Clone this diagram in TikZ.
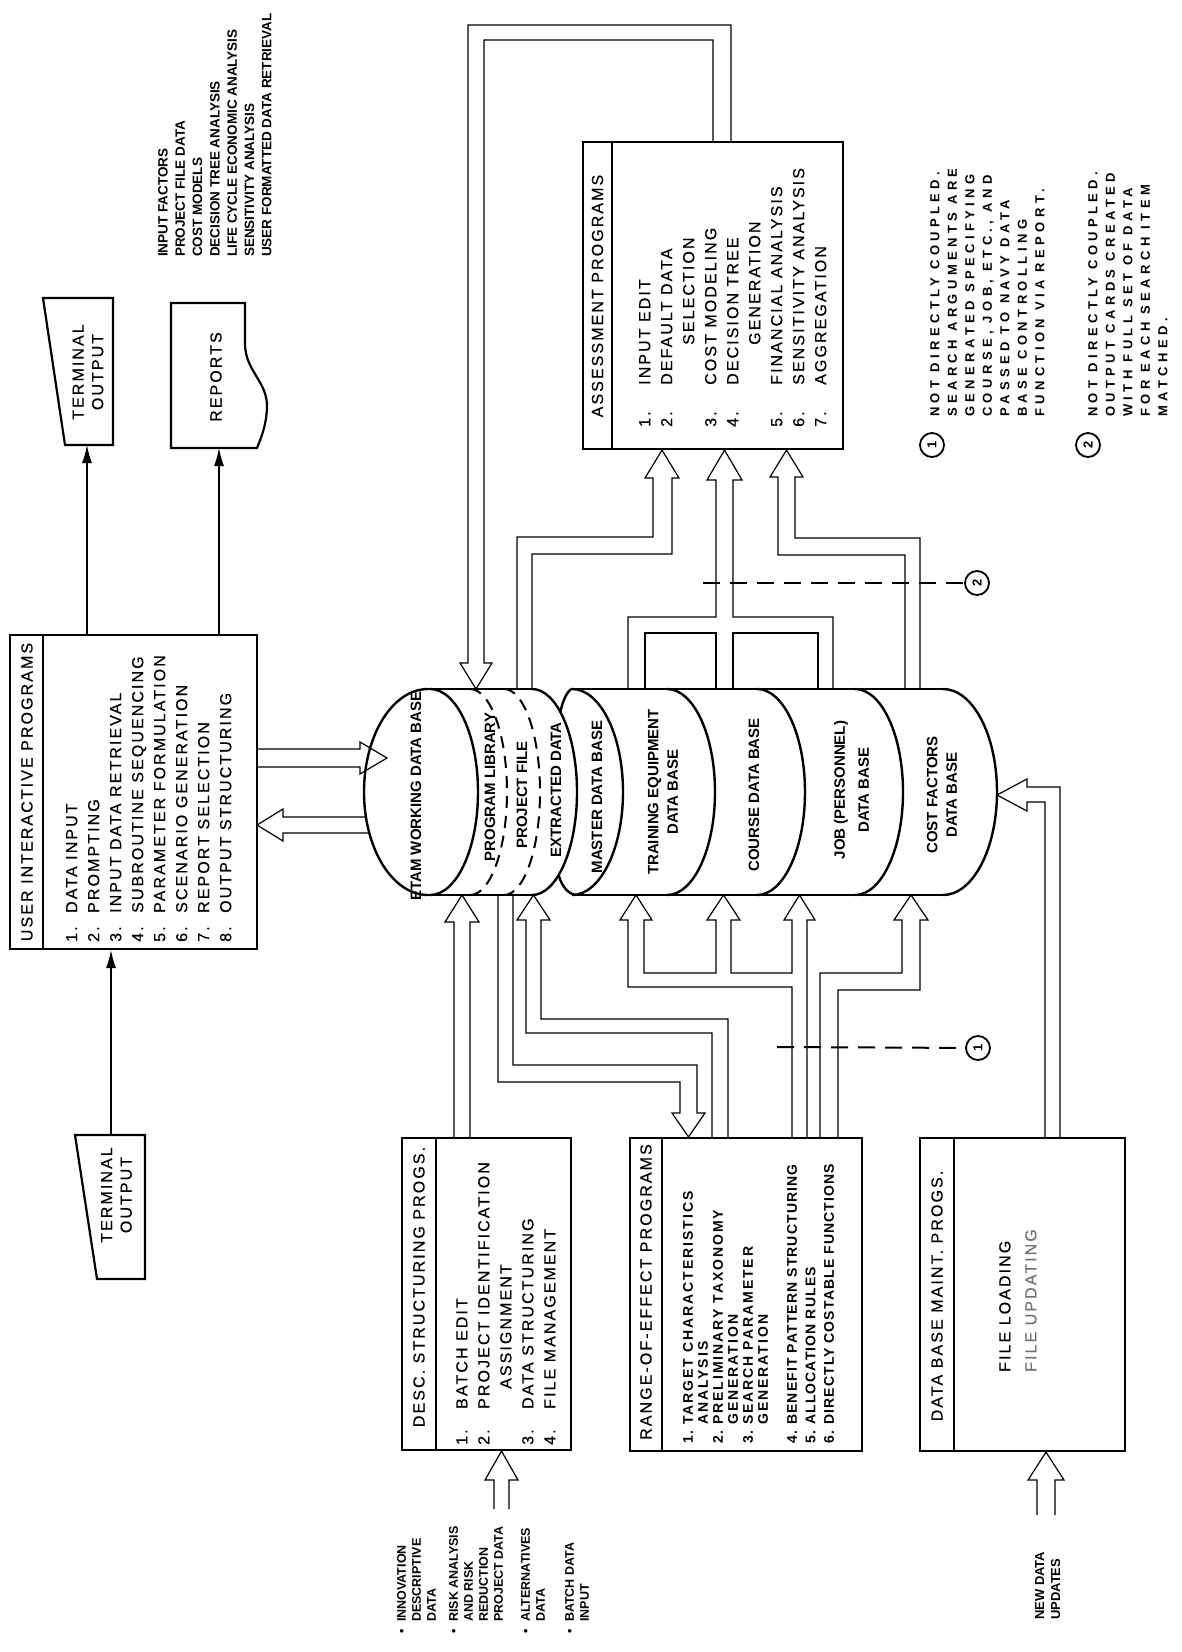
\documentclass[tikz,border=0pt]{standalone}
\usepackage{fontspec}
\setmainfont{Liberation Sans}
\newfontfamily\fwide[LetterSpace=13,FakeBold=0.4]{Liberation Sans}
\newfontfamily\fbsp[LetterSpace=14]{Liberation Sans}
\newfontfamily\fbspb[LetterSpace=8]{Liberation Sans}
\newfontfamily\fnote[LetterSpace=34]{Liberation Sans}
\newfontfamily\fplain{Liberation Sans}
\usetikzlibrary{arrows.meta}
\newcommand\nbx[2]{\makebox[#1][l]{#2}}
\begin{document}
\begin{tikzpicture}[x=1pt,y=-1pt,
  box/.style={draw,line width=2.2pt,rectangle,inner sep=0pt},
  divl/.style={line width=2.2pt},
  pipe/.style={line width=1.2pt,line join=miter},
  cyl/.style={line width=2.4pt},
  dcyl/.style={line width=2pt,dash pattern=on 12pt off 8pt},
  rt/.style={rotate=90,inner sep=0pt,align=left,anchor=north west},
  rc/.style={rotate=90,inner sep=0pt,align=center,anchor=center},
  lst/.style={font=\fwide\fontsize{16}{22}\selectfont},
  dbl/.style={font=\fplain\bfseries\fontsize{15}{19.5}\selectfont},
  arr/.style={line width=1.3pt,-{Latex[length=18pt,width=10pt]}},
  dsh/.style={line width=2pt,dash pattern=on 17pt off 10pt},
  circ/.style={draw,circle,line width=1.8pt,minimum size=24pt,inner sep=0pt,rotate=90,font=\fplain\bfseries\fontsize{13}{13}\selectfont},
]
\fill[white] (0,0) rectangle (1181,1652);
\useasboundingbox (0,0) rectangle (1181,1652);

% ---------- boxes ----------
\node[box,minimum width=247pt,minimum height=314pt] (uip) at (133.5,792) {};
\draw[divl] (43,0 |- uip.north) -- (43,0 |- uip.south);
\node[rc,lst] (uiphd) at (27,792) {USER INTERACTIVE PROGRAMS};
\node[rt,lst] (uiplist) at (66,942) {\nbx{29pt}{1.}DATA INPUT\\ \nbx{29pt}{2.}PROMPTING\\ \nbx{29pt}{3.}INPUT DATA RETRIEVAL\\ \nbx{29pt}{4.}SUBROUTINE SEQUENCING\\ \nbx{29pt}{5.}PARAMETER FORMULATION\\ \nbx{29pt}{6.}SCENARIO GENERATION\\ \nbx{29pt}{7.}REPORT SELECTION\\ \nbx{29pt}{8.}OUTPUT STRUCTURING};

\node[box,minimum width=260pt,minimum height=307pt] (asm) at (713,295.5) {};
\draw[divl] (612,0 |- asm.north) -- (612,0 |- asm.south);
\node[rc,lst] (asmhd) at (597.5,296) {ASSESSMENT PROGRAMS};
\node[rt,lst] (asmlist) at (639,427) {\nbx{42pt}{1.}INPUT EDIT\\ \nbx{42pt}{2.}DEFAULT DATA\\ \hspace*{82pt}SELECTION\\ \nbx{42pt}{3.}COST MODELING\\ \nbx{42pt}{4.}DECISION TREE\\ \hspace*{82pt}GENERATION\\ \nbx{42pt}{5.}FINANCIAL ANALYSIS\\ \nbx{42pt}{6.}SENSITIVITY ANALYSIS\\ \nbx{42pt}{7.}AGGREGATION};

\node[box,minimum width=169pt,minimum height=312pt] (desc) at (486.5,1294) {};
\draw[divl] (436,0 |- desc.north) -- (436,0 |- desc.south);
\node[rc,lst] (deschd) at (419,1287) {DESC. STRUCTURING PROGS.};
\node[rt,lst] (desclist) at (456,1445) {\nbx{36pt}{1.}BATCH EDIT\\ \nbx{36pt}{2.}PROJECT IDENTIFICATION\\ \hspace*{56pt}ASSIGNMENT\\ \nbx{36pt}{3.}DATA STRUCTURING\\ \nbx{36pt}{4.}FILE MANAGEMENT};

\node[box,minimum width=232pt,minimum height=313pt] (roe) at (746,1294.5) {};
\draw[divl] (662,0 |- roe.north) -- (662,0 |- roe.south);
\node[rc,lst] (roehd) at (646,1292) {RANGE-OF-EFFECT PROGRAMS};
\node[rt,font=\fbsp\bfseries\fontsize{14}{15}\selectfont] (roelist) at (683,1444) {\nbx{19pt}{1.}TARGET CHARACTERISTICS\\ \hspace*{19pt}ANALYSIS\\ \nbx{19pt}{2.}PRELIMINARY TAXONOMY\\ \hspace*{19pt}GENERATION\\ \nbx{19pt}{3.}SEARCH PARAMETER\\ \hspace*{19pt}GENERATION};
\node[rt,font=\fbspb\bfseries\fontsize{14}{18.5}\selectfont] (roelist2) at (787,1444) {\nbx{19pt}{4.}BENEFIT PATTERN STRUCTURING\\ \nbx{19pt}{5.}ALLOCATION RULES\\ \nbx{19pt}{6.}DIRECTLY COSTABLE FUNCTIONS};

\node[box,minimum width=205pt,minimum height=313pt] (dbm) at (1022.5,1294.5) {};
\draw[divl] (954,0 |- dbm.north) -- (954,0 |- dbm.south);
\node[rc,lst] (dbmhd) at (937,1296) {DATA BASE MAINT. PROGS.};
\node[rt,font=\fwide\fontsize{16}{26}\selectfont] (dbmlist) at (999,1372) {FILE LOADING\\ \textcolor{black!55}{FILE UPDATING}};

% ---------- terminals and reports ----------
\draw[line width=2.2pt] (43,298) -- (113,298) -- (113,445) -- (65,445) -- cycle;
\node[rc,font=\fwide\fontsize{16}{19.5}\selectfont] (tt1) at (88,372) {TERMINAL\\OUTPUT};
\draw[line width=2.2pt] (75,1135) -- (145,1135) -- (145,1279) -- (97,1279) -- cycle;
\node[rc,font=\fwide\fontsize{16}{19.5}\selectfont] (tt2) at (116.5,1195) {TERMINAL\\OUTPUT};
\draw[line width=2.2pt] (171,303) -- (245,303) -- (245,345) .. controls (246,372) and (268,382) .. (267,408) .. controls (266,428) and (260,440) .. (257,448) -- (171,448) -- cycle;
\node[rc,lst] (rep) at (216,377) {REPORTS};

\coordinate (t1b) at (87,445);
\coordinate (repb) at (219,448);
\coordinate (t2t) at (111,1135);
\draw[arr] (87,0 |- uip.north) -- (t1b);
\draw[arr] (219,0 |- uip.north) -- (repb);
\draw[arr] (t2t) -- (111,0 |- uip.south);

% ---------- outputs list ----------
\node[rt,font=\fplain\bfseries\fontsize{13.5}{17.3}\selectfont] (outlist) at (158,257) {INPUT FACTORS\\ PROJECT FILE DATA\\ COST MODELS\\ DECISION TREE ANALYSIS\\ LIFE CYCLE ECONOMIC ANALYSIS\\ SENSITIVITY ANALYSIS\\ USER FORMATTED DATA RETRIEVAL};

% ---------- inputs list ----------
\node[rt,font=\fplain\bfseries\fontsize{12.5}{15}\selectfont] (inlist) at (397,1634) {\nbx{12pt}{\textbullet}INNOVATION\\ \hspace*{12pt}DESCRIPTIVE\\ \hspace*{12pt}DATA\\[7pt] \nbx{12pt}{\textbullet}RISK ANALYSIS\\ \hspace*{12pt}AND RISK\\ \hspace*{12pt}REDUCTION\\ \hspace*{12pt}PROJECT DATA\\[12pt] \nbx{12pt}{\textbullet}ALTERNATIVES\\ \hspace*{12pt}DATA\\[14pt] \nbx{12pt}{\textbullet}BATCH DATA\\ \hspace*{12pt}INPUT};
\node[rt,font=\fplain\bfseries\fontsize{13}{16}\selectfont] (newdata) at (1035,1620) {NEW DATA\\UPDATES};

% ---------- legend ----------
\node[circ] (lc1) at (932,445) {1};
\node[circ] (lc2) at (1088,445) {2};
\node[rt,font=\fnote\bfseries\fontsize{13}{17.5}\selectfont] (note1) at (930,417) {NOT DIRECTLY COUPLED.\\ SEARCH ARGUMENTS ARE\\ GENERATED SPECIFYING\\ COURSE, JOB, ETC., AND\\ PASSED TO NAVY DATA\\ BASE CONTROLLING\\ FUNCTION VIA REPORT.};
\node[rt,font=\fnote\bfseries\fontsize{13}{17.5}\selectfont] (note2) at (1088,417) {NOT DIRECTLY COUPLED.\\ OUTPUT CARDS CREATED\\ WITH FULL SET OF DATA\\ FOR EACH SEARCH ITEM\\ MATCHED.};

% ---------- cylinder stack ----------
\draw[cyl] (428,689) -- (532,689);
\draw[cyl] (571,689) -- (943,689);
\draw[cyl] (428,895) -- (532,895);
\draw[cyl] (575,895) -- (943,895);
\draw[cyl] (428,689) arc[start angle=-90,end angle=-270,x radius=64,y radius=103];
\draw[cyl] (430,689) arc[start angle=-90,end angle=90,x radius=48,y radius=103];
\draw[dcyl] (470,689) arc[start angle=-90,end angle=90,x radius=37,y radius=103];
\draw[dcyl] (504,689) arc[start angle=-90,end angle=90,x radius=36,y radius=103];
\draw[cyl] (532,689) arc[start angle=-90,end angle=90,x radius=45,y radius=103];
\draw[cyl] (560.3,712) .. controls (563,700) and (567,692) .. (571,689);
\draw[cyl] (558.6,875) .. controls (562,887) and (568,893) .. (575,895);
\draw[cyl] (572,689) arc[start angle=-90,end angle=90,x radius=51,y radius=103];
\draw[cyl] (667,689) arc[start angle=-90,end angle=90,x radius=48,y radius=103];
\draw[cyl] (757,689) arc[start angle=-90,end angle=90,x radius=48,y radius=103];
\draw[cyl] (855,689) arc[start angle=-90,end angle=90,x radius=48,y radius=103];
\draw[cyl] (943,689) arc[start angle=-90,end angle=90,x radius=54,y radius=103];

\node[rc,dbl] (etam) at (416,796) {ETAM WORKING DATA BASE};
\node[rc,dbl] (plib) at (490,787) {PROGRAM LIBRARY};
\node[rc,dbl] (pfile) at (522,795) {PROJECT FILE};
\node[rc,dbl] (xdata) at (556,790) {EXTRACTED DATA};
\node[rc,dbl] (mdb) at (597,797) {MASTER DATA BASE};
\node[rc,dbl] (tedb) at (663,792) {TRAINING EQUIPMENT\\DATA BASE};
\node[rc,dbl] (cdb) at (754,795) {COURSE DATA BASE};
\node[rc,font=\fplain\bfseries\fontsize{15}{24}\selectfont] (jdb) at (851.5,790) {JOB (PERSONNEL)\\DATA BASE};
\node[rc,dbl] (cfdb) at (942,795) {COST FACTORS\\DATA BASE};

% ---------- UIP <-> ETAM hollow arrows ----------
\draw[pipe] (257,749) -- (360,749) -- (360,742) -- (387,758) -- (360,774) -- (360,767) -- (257,767);
\draw[pipe] (366,817) -- (283,817) -- (283,809) -- (257,825) -- (283,841) -- (283,833) -- (369,833);

% ---------- upper pipes ----------
\draw[pipe] (731,0 |- asm.north) -- (731,25) -- (468,25) -- (468,663) -- (460,663) -- (476,689) -- (492,663) -- (484,663) -- (484,40) -- (713,40) -- (713,0 |- asm.north);
\draw[pipe] (517,689) -- (517,537) -- (653,537) -- (653,478) -- (645,478) -- (662,0 |- asm.south) -- (679,478) -- (672,478) -- (672,554) -- (532,554) -- (532,689);
\draw[pipe] (716,689) -- (716,633) -- (645,633) -- (645,689);
\draw[pipe] (628,689) -- (628,617) -- (716,617) -- (716,480) -- (707,480) -- (724.5,0 |- asm.south) -- (742,480) -- (733,480) -- (733,617) -- (833,617) -- (833,689);
\draw[pipe] (733,689) -- (733,633) -- (818,633) -- (818,689);
\draw[pipe] (905,689) -- (905,555) -- (778,555) -- (778,477) -- (770,477) -- (786.5,0 |- asm.south) -- (803,477) -- (795,477) -- (795,538) -- (920,538) -- (920,689);
\node[circ] (d2) at (977,583) {2};
\draw[dsh] (703,583) -- (d2);

% ---------- lower pipes ----------
\draw[pipe] (454,0 |- desc.north) -- (454,922) -- (445,922) -- (462,895) -- (479,922) -- (470,922) -- (470,0 |- desc.north);
\draw[pipe] (498,895) -- (498,1082) -- (680,1082) -- (680,1113) -- (672,1113) -- (688.5,0 |- roe.north) -- (705,1113) -- (697,1113) -- (697,1065) -- (513,1065) -- (513,895);
\draw[pipe] (712,0 |- roe.north) -- (712,1033) -- (526,1033) -- (526,920) -- (517,920) -- (533.5,895) -- (550,920) -- (541,920) -- (541,1019) -- (728,1019) -- (728,0 |- roe.north);
\draw[pipe] (807,0 |- roe.north) -- (807,920) -- (815,920) -- (799.5,895) -- (784,920) -- (792,920) -- (792,973) -- (731,973) -- (731,920) -- (740,920) -- (723.5,895) -- (707,920) -- (716,920) -- (716,973) -- (644,973) -- (644,920) -- (652,920) -- (636,895) -- (620,920) -- (628,920) -- (628,987) -- (792,987) -- (792,0 |- roe.north);
\draw[pipe] (820,0 |- roe.north) -- (820,973) -- (902,973) -- (902,920) -- (894,920) -- (911,895) -- (928,920) -- (920,920) -- (920,990) -- (838,990) -- (838,0 |- roe.north);
\node[circ] (d1) at (978,1048) {1};
\draw[dsh] (777,1047) -- (d1);
\draw[pipe] (1045,0 |- dbm.north) -- (1045,802) -- (1027,802) -- (1027,811) -- (997,795) -- (1027,779) -- (1027,787) -- (1060,787) -- (1060,0 |- dbm.north);

% ---------- input arrows ----------
\draw[pipe] (494,1509) -- (494,1480) -- (485,1480) -- (501.5,0 |- desc.south) -- (518,1480) -- (509,1480) -- (509,1509);
\draw[pipe] (1037,1515) -- (1037,1480) -- (1028,1480) -- (1046,0 |- dbm.south) -- (1064,1480) -- (1055,1480) -- (1055,1515);
\end{tikzpicture}
\end{document}
